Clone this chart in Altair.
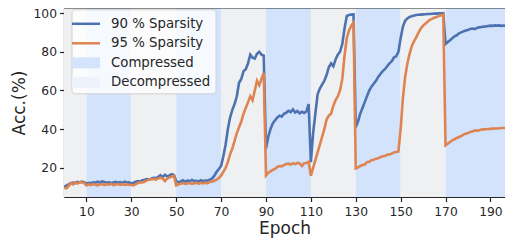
import altair as alt
import pandas as pd

epochs = list(range(200))

acc_90 = [
    10.2, 10.8, 11.5, 12.0, 12.4, 12.2, 12.8, 12.5, 12.9, 12.6,
    12.0, 12.3, 12.1, 12.6, 12.4, 12.9, 12.5, 13.1, 12.7, 12.4,
    12.6, 12.2, 12.5, 12.8, 12.4, 12.7, 12.3, 12.9, 12.5, 12.6,
    12.0, 12.4, 12.9, 13.2, 13.0, 13.6, 13.9, 14.2, 14.0, 14.6,
    14.9, 14.7, 15.4, 16.3, 15.2, 16.5, 15.6, 16.2, 16.8, 16.4,
    13.2, 12.6, 13.0, 13.6, 12.8, 13.5, 13.1, 13.8, 13.3, 13.4,
    13.0, 13.7, 13.2, 13.5, 13.4, 14.0, 14.6, 16.0, 18.0, 19.5,
    21.0, 26.0, 32.0, 40.0, 46.0, 50.0, 53.0, 57.0, 64.0, 66.0,
    70.0, 71.0, 74.0, 78.5, 77.0, 76.5, 79.0, 80.0, 78.5, 78.0,
    30.0, 36.0, 40.0, 43.0, 44.5, 46.0, 47.0, 46.5, 48.0, 48.5,
    49.5, 48.8, 50.2, 48.6, 49.4, 48.2, 49.0, 48.4, 49.2, 53.0,
    23.0, 38.0, 48.0, 58.0, 61.0, 63.0, 65.0, 68.0, 72.0, 74.0,
    72.5, 76.0, 78.5, 80.0, 84.0, 92.0, 98.5, 99.0, 99.2, 99.3,
    41.0, 44.0, 48.0, 51.0, 54.0, 57.0, 60.0, 62.0, 63.5, 65.0,
    67.0, 68.5, 70.0, 71.0, 72.5, 74.0, 75.0, 77.0, 77.6, 80.0,
    87.0, 93.0, 96.0, 97.2, 98.0, 98.4, 98.7, 99.0, 99.1, 99.2,
    99.3, 99.4, 99.5, 99.5, 99.6, 99.7, 99.7, 99.8, 99.8, 99.9,
    84.0, 85.0, 86.0, 87.0, 88.0, 88.5, 89.5, 90.0, 90.5, 91.0,
    91.2, 91.8, 92.0, 91.7, 92.3, 92.6, 92.8, 93.0, 93.1, 93.3,
    93.5, 93.4, 93.6, 93.5, 93.6, 93.4, 93.5, 93.4, 93.3, 93.2,
]

acc_95 = [
    9.8, 9.5, 10.5, 12.2, 11.5, 12.5, 12.0, 12.6, 12.8, 12.2,
    11.0, 11.5, 11.2, 11.8, 11.3, 11.0, 11.5, 11.7, 11.2, 11.6,
    11.4, 11.8, 11.2, 11.5, 11.7, 11.3, 11.6, 11.2, 11.5, 11.3,
    11.2, 11.0, 11.6, 12.2, 12.6, 12.5, 13.0, 13.6, 14.0, 14.2,
    14.3, 14.0, 14.6, 15.0, 14.4, 13.2, 14.6, 15.0, 15.5, 16.0,
    11.0, 11.5, 11.9, 12.2, 11.8, 12.0, 12.2, 11.8, 12.1, 12.4,
    11.8, 12.3, 12.0, 12.4, 12.2, 12.8, 13.0, 13.4, 14.0, 14.8,
    16.0, 18.0, 20.0, 23.0, 27.0, 30.0, 34.0, 38.0, 41.0, 44.0,
    48.0, 51.0, 54.0, 57.0, 55.0, 60.0, 65.0, 62.7, 66.0, 69.0,
    16.2, 17.5, 18.2, 19.0, 19.5, 20.5, 21.0, 20.8, 21.5, 22.0,
    22.2, 21.8, 22.4, 22.0, 22.6, 22.3, 21.0, 22.4, 22.6, 23.2,
    16.0, 20.0, 24.0, 28.0, 32.0, 36.0, 40.0, 45.0, 47.0, 48.0,
    52.0, 55.0, 57.0, 60.0, 66.0, 78.0, 87.0, 91.0, 93.5, 95.0,
    19.8, 20.2, 21.0, 21.5, 21.8, 23.0, 23.2, 24.0, 24.2, 24.8,
    25.0, 25.6, 26.0, 26.2, 26.8, 27.0, 27.4, 28.0, 28.2, 28.5,
    40.0, 56.0, 67.0, 74.0, 79.0, 83.0, 85.5, 87.5, 90.0, 92.0,
    93.5, 94.5, 95.5, 96.5, 97.0, 97.6, 98.0, 98.4, 98.8, 99.2,
    31.7, 32.5, 33.4, 34.3, 34.8, 35.5, 36.0, 36.5, 37.2, 37.7,
    38.0, 38.6, 38.8, 39.4, 39.2, 39.5, 39.8, 39.9, 40.0, 40.1,
    40.2, 40.3, 40.4, 40.4, 40.5, 40.6, 40.6, 40.7, 40.8, 40.8,
]

series_names = ["90 % Sparsity", "95 % Sparsity"]
series_colors = ["#4c72b0", "#dd8452"]

phase_starts = [0, 10, 30, 50, 70, 90, 110, 130, 150, 170]
phase_ends = [10, 30, 50, 70, 90, 110, 130, 150, 170, 200]
phase_states = ["Decompressed", "Compressed"] * 5
phase_names = ["Compressed", "Decompressed"]
phase_colors = ["#d3e3fb", "#eff0f2"]

legend_labels = ["90 % Sparsity", "95 % Sparsity", "Compressed", "Decompressed"]
legend_colors = ["#4c72b0", "#dd8452", "#d4e4fc", "#eef2fa"]
line_sym = "M-1.4,-0.125H1.4V0.125H-1.4Z"
patch_sym = "M-1.4,-0.55H1.4V0.55H-1.4Z"
legend_shapes = [line_sym, line_sym, patch_sym, patch_sym]

x_ticks = [10, 30, 50, 70, 90, 110, 130, 150, 170, 190]
y_ticks = [20, 40, 60, 80, 100]

W, H = 441, 189
TXT = "#262626"
FONT = "DejaVu Sans"

lines_df = pd.DataFrame({
    "epoch": epochs + epochs,
    "acc": acc_90 + acc_95,
    "series": [series_names[0]] * len(epochs) + [series_names[1]] * len(epochs),
})
spans_df = pd.DataFrame({"start": phase_starts, "end": phase_ends, "state": phase_states})
legend_df = pd.DataFrame({"key": legend_labels})
frame_df = pd.DataFrame({"k": [0]})

x_scale = alt.Scale(domain=[0, 196.5], nice=False, zero=False)
y_scale = alt.Scale(domain=[5, 102.6], nice=False, zero=False)

x_axis = alt.Axis(
    values=x_ticks, title="Epoch", grid=False,
    labelFont=FONT, labelFontSize=12.3, labelColor=TXT, labelPadding=3.5, labelFlush=False,
    titleFont=FONT, titleFontSize=17, titleFontWeight="normal", titleColor=TXT, titlePadding=3.5,
    tickSize=4.5, tickColor=TXT, tickWidth=1.2, domainColor=TXT, domainWidth=1.2,
)
y_axis = alt.Axis(
    values=y_ticks, title="Acc.(%)", grid=False,
    labelFont=FONT, labelFontSize=12.3, labelColor=TXT, labelPadding=3,
    titleFont=FONT, titleFontSize=17, titleFontWeight="normal", titleColor=TXT, titlePadding=5,
    tickSize=4.5, tickColor=TXT, tickWidth=1.2, domainColor=TXT, domainWidth=1.2,
)

spans = alt.Chart(spans_df).mark_rect(clip=True).encode(
    x=alt.X("start:Q", scale=x_scale, axis=x_axis),
    x2="end:Q",
    fill=alt.Fill("state:N", scale=alt.Scale(domain=phase_names, range=phase_colors), legend=None),
)

lines = alt.Chart(lines_df).mark_line(strokeWidth=2.6, clip=True).encode(
    x=alt.X("epoch:Q", scale=x_scale, axis=x_axis),
    y=alt.Y("acc:Q", scale=y_scale, axis=y_axis),
    stroke=alt.Stroke("series:N", scale=alt.Scale(domain=series_names, range=series_colors), legend=None),
)

frame = alt.Chart(frame_df).mark_rule(color=TXT, strokeWidth=1.2).encode(
    x=alt.value(0), x2=alt.value(W), y=alt.value(0)
)

leg = alt.Legend(
    title=None, orient="none", legendX=7.5, legendY=1.3,
    symbolSize=400, labelOffset=15, rowPadding=2.5, padding=4.5,
    fillColor="rgba(255,255,255,0.8)", strokeColor="#d0d0d0", cornerRadius=3,
    labelFont=FONT, labelFontSize=13.3, labelColor=TXT, labelLimit=300,
    symbolStrokeWidth=0, symbolOpacity=1,
)

legend_layer = alt.Chart(legend_df).mark_point(filled=True, opacity=1, strokeWidth=0).encode(
    color=alt.Color("key:N", scale=alt.Scale(domain=legend_labels, range=legend_colors), legend=leg),
    shape=alt.Shape("key:N", scale=alt.Scale(domain=legend_labels, range=legend_shapes), legend=leg),
).transform_filter("false")

chart = alt.layer(spans, lines, frame, legend_layer).properties(
    width=W, height=H,
    autosize=alt.AutoSizeParams(type="none"),
    padding={"left": 56, "top": 0, "right": 0, "bottom": 44},
    background="white",
).configure_view(stroke=None)

chart.save("out.html", embed_options={"renderer": "svg", "actions": False})
